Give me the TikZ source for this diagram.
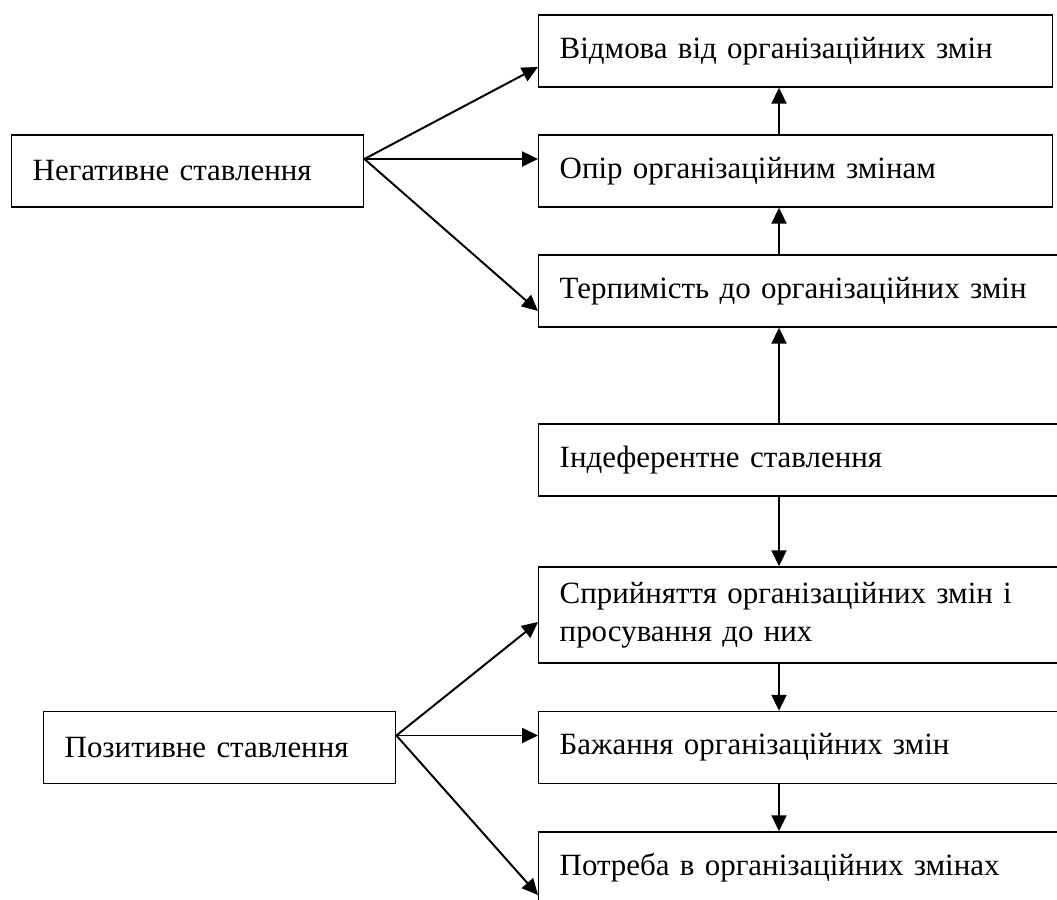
\documentclass[tikz,border=0pt]{standalone}
\usepackage{fontspec}
\setmainfont{Liberation Serif}
\usetikzlibrary{arrows.meta,positioning}

\begin{document}
\begin{tikzpicture}[
  att/.style={rectangle,draw,line width=1pt,anchor=west,minimum width=8.8cm,minimum height=1.8cm,
              text width=7.75cm,inner xsep=0.525cm,inner ysep=0pt,align=left,
              font=\fontsize{22}{27}\selectfont},
  lvl/.style={att,minimum width=12.85cm,text width=11.8cm},
  wlvl/.style={att,minimum width=13.5cm,text width=12.45cm},
  arr/.style={-{Triangle[length=0.4cm,width=0.375cm]},line width=1.4pt}
]
  \useasboundingbox (0,0) rectangle (26.425,22.5);
  \clip (0,0) rectangle (26.425,22.5);

  \node[att](neg) at (0.275,18.225) {Негативне ставлення};
  \node[att](pos) at (1.075,3.8125) {Позитивне ставлення};

  \node[lvl](refuse)  at (13.45,21.225) {Відмова від організаційних змін};
  \node[lvl](resist)  at (13.45,18.225) {Опір організаційним змінам};
  \node[wlvl](toler)  at (13.45,15.225) {Терпимість до організаційних змін};
  \node[wlvl](indif)  at (13.45,11.0)   {Індеферентне ставлення};
  \node[wlvl,minimum height=2.4cm](accept) at (13.45,7.125)
      {Сприйняття організаційних змін і\\просування до них};
  \node[wlvl](desire) at (13.45,3.8125) {Бажання організаційних змін};
  \node[wlvl](need)   at (13.45,0.8)    {Потреба в організаційних змінах};

  % negative attitude
  \draw[arr]([yshift=0.3cm]neg.east)--([yshift=-0.4cm]refuse.west);
  \draw[arr]([yshift=0.3cm]neg.east)--([yshift=0.3cm]resist.west);
  \draw[arr]([yshift=0.3cm]neg.east)--([yshift=-0.5cm]toler.west);

  % positive attitude
  \draw[arr]([yshift=0.3cm]pos.east)--([yshift=-0.175cm]accept.west);
  \draw[arr]([yshift=0.3cm]pos.east)--([yshift=0.3cm]desire.west);
  \draw[arr]([yshift=0.3cm]pos.east)--([yshift=-0.675cm]need.west);

  % scale of levels
  \draw[arr]([xshift=6.025cm]resist.north west)--([xshift=6.025cm]refuse.south west);
  \draw[arr]([xshift=6.025cm]toler.north west)--([xshift=6.025cm]resist.south west);
  \draw[arr]([xshift=6.025cm]indif.north west)--([xshift=6.025cm]toler.south west);
  \draw[arr]([xshift=6.025cm]indif.south west)--([xshift=6.025cm]accept.north west);
  \draw[arr]([xshift=6.025cm]accept.south west)--([xshift=6.025cm]desire.north west);
  \draw[arr]([xshift=6.025cm]desire.south west)--([xshift=6.025cm]need.north west);
\end{tikzpicture}
\end{document}
